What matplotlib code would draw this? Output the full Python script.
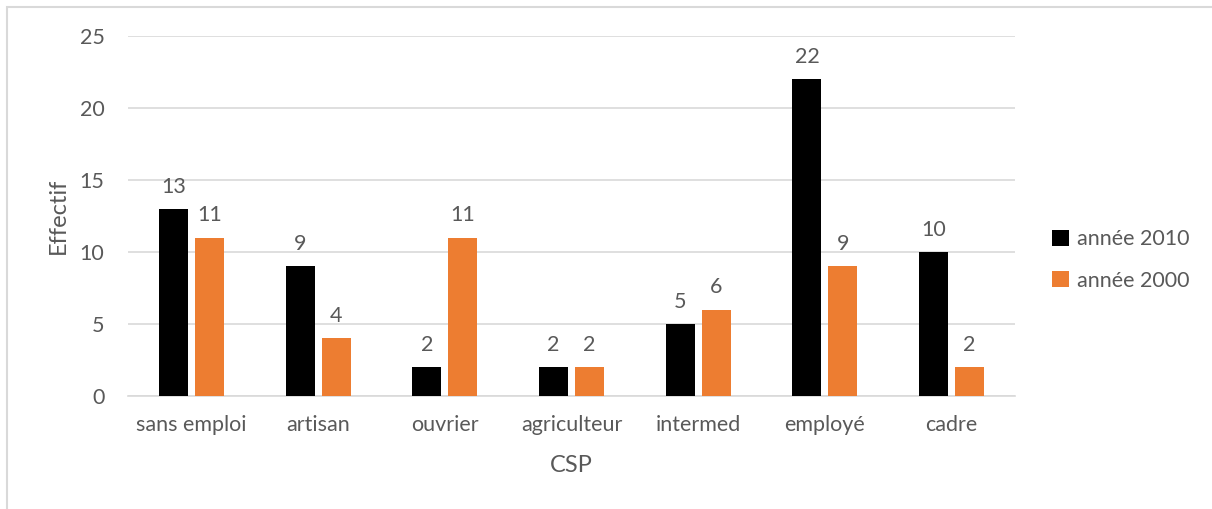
import numpy as np
import matplotlib.pyplot as plt
from matplotlib.patches import Rectangle

categories = ['sans emploi', 'artisan', 'ouvrier', 'agriculteur', 'intermed', 'employé', 'cadre']
annee_2010 = [13, 9, 2, 2, 5, 22, 10]
annee_2000 = [11, 4, 11, 2, 6, 9, 2]

plt.rcParams['font.family'] = ['Lato', 'DejaVu Sans']
txt = '#595959'
fs = 15.5

fig = plt.figure(figsize=(12.12, 5.09), dpi=100)
ax = fig.add_axes([128/1212, 1 - 396/509, (1015 - 128)/1212, (396 - 36)/509])

# chart border (only top/left visible in reference)
fig.patches.append(Rectangle((7/1212, -0.1), 1.2, (509 - 7)/509 + 0.1, transform=fig.transFigure,
                             fill=False, edgecolor='#D9D9D9', linewidth=1.5))

x = np.arange(len(categories))
w = 0.229
off = 0.142
b1 = ax.bar(x - off, annee_2010, w, color='#000000', label='année 2010', zorder=3)
b2 = ax.bar(x + off, annee_2000, w, color='#ED7D31', label='année 2000', zorder=3)

for bars in (b1, b2):
    for r in bars:
        ax.text(r.get_x() + r.get_width()/2, r.get_height() + 0.85, str(int(r.get_height())),
                ha='center', va='bottom', fontsize=fs, color=txt)

ax.set_xlim(-0.5, len(categories) - 0.5)
ax.set_ylim(0, 25)
ax.set_yticks(range(0, 26, 5))
ax.set_xticks(x)
ax.set_xticklabels(categories)
ax.yaxis.grid(True, color='#D9D9D9', linewidth=1.2, zorder=0)
for s in ['top', 'right', 'left']:
    ax.spines[s].set_visible(False)
ax.spines['bottom'].set_color('#D9D9D9')
ax.spines['bottom'].set_linewidth(1.2)
ax.tick_params(axis='both', length=0, labelsize=fs, labelcolor=txt)
ax.tick_params(axis='x', pad=14)
ax.tick_params(axis='y', pad=17)

# axis titles
fig.text(0.5 * (128 + 1015) / 1212, 1 - 465/509, 'CSP', fontsize=17, color=txt,
         ha='center', va='center')
fig.text(58/1212, 1 - 216/509, 'Effectif', fontsize=17, color=txt,
         ha='center', va='center', rotation=90)

fig.legend(loc='center left', bbox_to_anchor=(1033/1212, 1 - 260/509), frameon=False,
           fontsize=fs, labelcolor=txt, handlelength=0.75, handleheight=0.75,
           handletextpad=0.4, labelspacing=1.0)

fig.savefig('out.png', dpi=100)
